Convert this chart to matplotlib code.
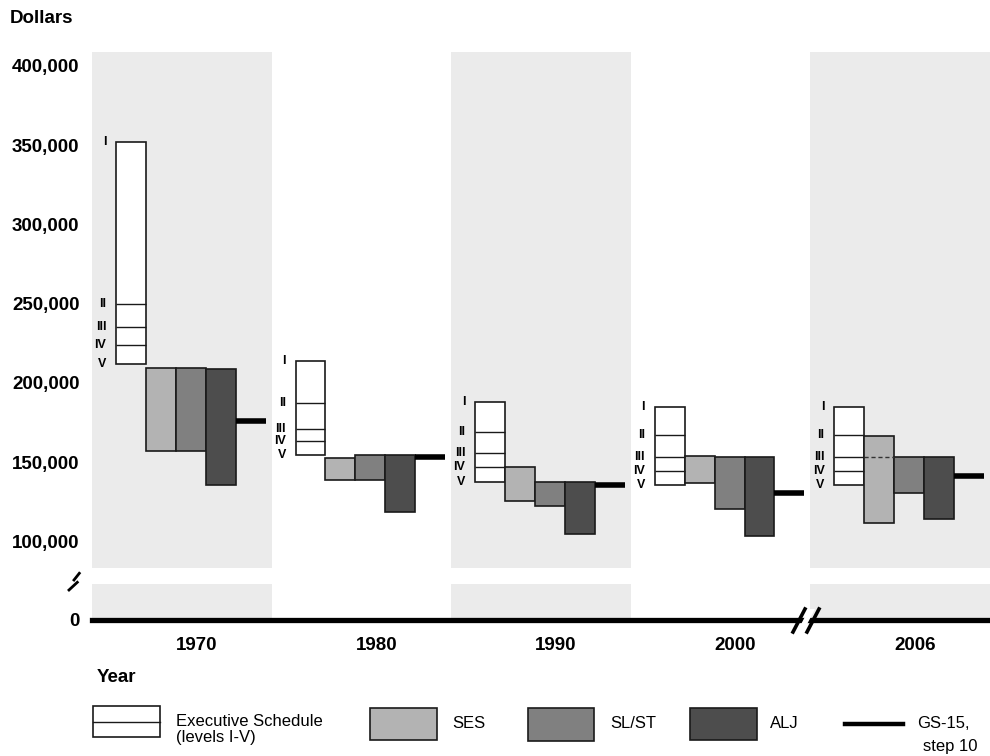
import numpy as np
import matplotlib.pyplot as plt
from matplotlib.lines import Line2D
from matplotlib.patches import Rectangle, Polygon
from matplotlib.ticker import FuncFormatter

plt.rcParams['font.family'] = ['Liberation Sans', 'DejaVu Sans']

years = ['1970', '1980', '1990', '2000', '2006']

# Executive Schedule levels I-V
exec_I = [352000, 213900, 187900, 184900, 184900]
exec_II = [249900, 187200, 169100, 167000, 167000]
exec_III = [235000, 170600, 155900, 153400, 153200]
exec_IV = [223600, 163100, 146800, 144300, 144300]
exec_V = [211800, 154600, 137400, 135500, 135500]

ses_max = [209100, 152300, 146800, 153800, 166600]
ses_min = [156900, 138500, 125600, 136800, 111500]
slst_max = [209100, 154600, 137400, 153400, 153200]
slst_min = [156900, 138500, 122200, 120300, 130600]
alj_max = [208700, 154600, 137400, 153400, 153200]
alj_min = [135500, 118300, 104800, 103500, 113900]
gs15 = [175900, 153300, 135700, 130300, 141200]
ses_cap = [None, None, None, None, 153200]  # dashed marker inside SES bar

roman = ['I', 'II', 'III', 'IV', 'V']
yticks = [100000, 150000, 200000, 250000, 300000, 350000, 400000]

BAND = 6.0
OFF = 0.8
band_grey = '#ebebeb'
c_ses, c_slst, c_alj = '#b3b3b3', '#808080', '#4d4d4d'
edge = '#1a1a1a'

W, H = 990, 756
fig = plt.figure(figsize=(W / 100, H / 100), dpi=100)


def fx(px):
    return px / W


def fy(py):
    return 1 - py / H


ax = fig.add_axes([fx(92), fy(567.7), 1 - fx(92), fy(51.7) - fy(567.7)])
ax2 = fig.add_axes([fx(92), fy(620), 1 - fx(92), fy(583.7) - fy(620)])

n = len(years)
starts = np.arange(n) * BAND
for a in (ax, ax2):
    for i in range(0, n, 2):
        a.axvspan(starts[i], starts[i] + BAND, color=band_grey, lw=0, zorder=0)
    a.set_xlim(0, n * BAND)
    for s in a.spines.values():
        s.set_visible(False)
    a.tick_params(length=0)

xe = starts + OFF
ex_I = np.array(exec_I)
ex_V = np.array(exec_V)
ax.bar(xe, ex_I - ex_V, bottom=ex_V, width=1, align='edge', color='white',
       edgecolor=edge, lw=1.2, zorder=2)
for lvl in (exec_II, exec_III, exec_IV):
    ax.hlines(lvl, xe, xe + 1, color=edge, lw=1.0, zorder=3)

for k, (hi, lo, col) in enumerate([(ses_max, ses_min, c_ses),
                                   (slst_max, slst_min, c_slst),
                                   (alj_max, alj_min, c_alj)]):
    hi = np.array(hi)
    lo = np.array(lo)
    ax.bar(xe + 1 + k, hi - lo, bottom=lo, width=1, align='edge', color=col,
           edgecolor=edge, lw=1.2, zorder=2)

for i in range(n):
    if ses_cap[i] is not None:
        ax.hlines(ses_cap[i], xe[i] + 1, xe[i] + 2, color='#333333', lw=1.0,
                  linestyles=(0, (3, 2)), zorder=3)

ax.hlines(gs15, xe + 4, xe + 5, color='black', lw=4, zorder=3)

for i in range(n):
    levels = [exec_I[i], exec_II[i], exec_III[i], exec_IV[i], exec_V[i]]
    for lab, v in zip(roman, levels):
        ax.annotate(lab, xy=(xe[i], v), xytext=(-7, 0), textcoords='offset points',
                    ha='right', va='center', fontsize=9, fontweight='bold')

ax.set_ylim(83300, 409000)
ax.set_yticks(yticks)
ax.yaxis.set_major_formatter(FuncFormatter(lambda v, p: f'{int(v):,}'))
ax.set_xticks([])
ax.tick_params(axis='y', pad=9, labelsize=13.5)
for t in ax.get_yticklabels():
    t.set_fontweight('bold')

ax2.set_ylim(0, 1)
ax2.set_yticks([0])
ax2.set_yticklabels(['0'], fontweight='bold', fontsize=13.5)
ax2.tick_params(axis='y', pad=9)
ax2.axhline(0, color='black', lw=3.8, clip_on=False, zorder=4)
ax2.set_xticks(starts + 3.5)
ax2.set_xticklabels(years, fontweight='bold', fontsize=13.5)
ax2.tick_params(axis='x', pad=12)

# axis break marks
fig.add_artist(Polygon([(fx(797), fy(632)), (fx(809), fy(609)),
                        (fx(815), fy(609)), (fx(803), fy(632))],
                       closed=True, transform=fig.transFigure,
                       facecolor='white', edgecolor='none', zorder=5))
for x0 in (793, 807):
    fig.add_artist(Line2D([fx(x0), fx(x0 + 12)], [fy(632), fy(609)],
                          transform=fig.transFigure, color='black', lw=2.6, zorder=6))
fig.add_artist(Line2D([fx(79.3), fx(74)], [fy(573.3), fy(580)],
                      transform=fig.transFigure, color='black', lw=2.0, zorder=6))
fig.add_artist(Line2D([fx(77.3), fx(69)], [fy(582.3), fy(590)],
                      transform=fig.transFigure, color='black', lw=2.0, zorder=6))

fig.text(fx(10), fy(18.5), 'Dollars', fontsize=13.5, fontweight='bold', va='center')
fig.text(fx(97), fy(677), 'Year', fontsize=13.5, fontweight='bold', va='center')

# legend
def leg_box(x0, x1, y0, y1, col):
    fig.add_artist(Rectangle((fx(x0), fy(y1)), fx(x1) - fx(x0), fy(y0) - fy(y1),
                             transform=fig.transFigure, facecolor=col,
                             edgecolor=edge, lw=1.2))


leg_box(93.3, 160, 706, 737.3, 'white')
fig.add_artist(Line2D([fx(93.3), fx(160)], [fy(721.7), fy(721.7)],
                      transform=fig.transFigure, color=edge, lw=1.0))
leg_box(370, 436.7, 708, 740, c_ses)
leg_box(527.7, 594.3, 708, 740.7, c_slst)
leg_box(690, 756.7, 708, 740, c_alj)
fig.add_artist(Line2D([fx(845), fx(902.7)], [fy(724.3), fy(724.3)],
                      transform=fig.transFigure, color='black', lw=3.2))

lfs = 12
fig.text(fx(176), fy(721), 'Executive Schedule', fontsize=lfs, va='center')
fig.text(fx(176), fy(737.5), '(levels I-V)', fontsize=lfs, va='center')
fig.text(fx(452), fy(724), 'SES', fontsize=lfs, va='center')
fig.text(fx(610), fy(724), 'SL/ST', fontsize=lfs, va='center')
fig.text(fx(770), fy(724), 'ALJ', fontsize=lfs, va='center')
fig.text(fx(917), fy(723.5), 'GS-15,', fontsize=lfs, va='center')
fig.text(fx(923), fy(746.5), 'step 10', fontsize=lfs, va='center')

fig.savefig('out.png', dpi=100)
